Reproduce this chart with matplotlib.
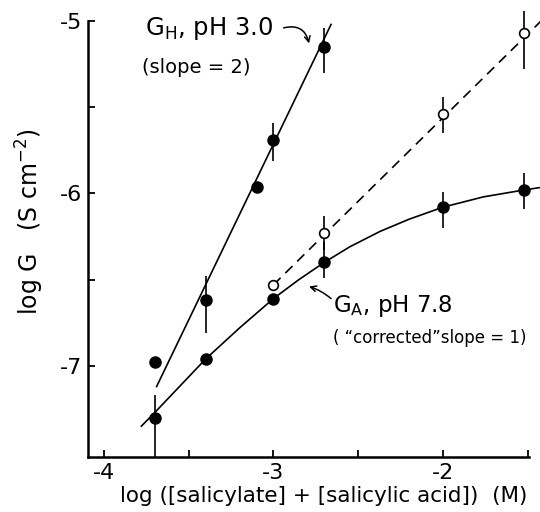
import numpy as np
import matplotlib
matplotlib.use("Agg")
import matplotlib.pyplot as plt

plt.rcParams['font.family'] = ['DejaVu Sans']
plt.rcParams['mathtext.fontset'] = 'dejavusans'

# G_H, pH 3.0 (filled, solid line slope 2)
gh_x = [-3.70, -3.40, -3.10, -3.00, -2.70]
gh_y = [-6.98, -6.62, -5.96, -5.69, -5.15]
gh_err_lo = [0.0, 0.19, 0.0, 0.12, 0.15]
gh_err_hi = [0.0, 0.14, 0.0, 0.10, 0.11]
gh_line_x = [-3.69, -2.66]
gh_line_y = [-7.12, -5.02]

# G_A, pH 7.8 (filled, solid curve)
ga_x = [-3.70, -3.40, -3.00, -2.70, -2.00, -1.52]
ga_y = [-7.30, -6.96, -6.61, -6.40, -6.08, -5.98]
ga_err_lo = [0.23, 0.0, 0.0, 0.09, 0.12, 0.11]
ga_err_hi = [0.13, 0.0, 0.0, 0.12, 0.09, 0.10]
ga_curve_x = [-3.78, -3.70, -3.40, -3.20, -3.00, -2.85, -2.70, -2.55,
              -2.37, -2.20, -2.00, -1.88, -1.76, -1.64, -1.52, -1.42]
ga_curve_y = [-7.35, -7.27, -6.96, -6.78, -6.61, -6.50, -6.40, -6.31,
              -6.22, -6.15, -6.08, -6.05, -6.02, -6.00, -5.98, -5.965]

# "corrected" G_A (open, dashed slope 1)
gc_x = [-3.00, -2.70, -2.00, -1.52]
gc_y = [-6.53, -6.23, -5.54, -5.07]
gc_err_lo = [0.0, 0.10, 0.11, 0.21]
gc_err_hi = [0.0, 0.10, 0.10, 0.13]
gc_line_x = [-3.00, -1.42]
gc_line_y = [-6.53, -5.00]

xticks = [-4, -3, -2]
xminor = [-3.5, -2.5, -1.5]
yticks = [-5, -6, -7]
yminor = [-5.5, -6.5]

fig = plt.figure(figsize=(5.4, 5.12), dpi=100)
ax = fig.add_axes([0.163, 0.107, 0.817, 0.852])

# fit lines
ax.plot(gh_line_x, gh_line_y, color='black', lw=1.2, clip_on=False)
ax.plot(ga_curve_x, ga_curve_y, color='black', lw=1.2, clip_on=False)
ax.plot(gc_line_x, gc_line_y, color='black', lw=1.2, ls=(0, (6, 4)), clip_on=False)

# data with error bars
ax.errorbar(gh_x, gh_y, yerr=[gh_err_lo, gh_err_hi], fmt='o', color='black',
            ms=8, elinewidth=1.2, capsize=0, clip_on=False, zorder=3)
ax.errorbar(ga_x, ga_y, yerr=[ga_err_lo, ga_err_hi], fmt='o', color='black',
            ms=8, elinewidth=1.2, capsize=0, clip_on=False, zorder=3)
ax.errorbar(gc_x, gc_y, yerr=[gc_err_lo, gc_err_hi], fmt='o', color='black',
            mfc='white', mec='black', mew=1.2, ms=7, elinewidth=1.2, capsize=0,
            clip_on=False, zorder=4)

ax.set_xlim(-4.095, -1.49)
ax.set_ylim(-7.53, -5.0)

for s in ['top', 'right']:
    ax.spines[s].set_visible(False)
for s in ['left', 'bottom']:
    ax.spines[s].set_linewidth(1.8)

ax.set_xticks(xticks)
ax.set_xticklabels([str(t) for t in xticks])
ax.set_xticks(xminor, minor=True)
ax.set_yticks(yticks)
ax.set_yticklabels([str(t) for t in yticks])
ax.set_yticks(yminor, minor=True)
ax.tick_params(which='both', direction='in', length=5, width=1.3, labelsize=16, pad=4)

ax.set_xlabel("log ([salicylate] + [salicylic acid])  (M)", fontsize=15.5)
ax.xaxis.set_label_coords(0.535, -0.066)
ax.set_ylabel("log G   (S cm$^{-2}$)", fontsize=17)
ax.yaxis.set_label_coords(-0.095, 0.54)

# annotations
ax.text(-3.76, -5.08, "G$_{\\mathrm{H}}$, pH 3.0", fontsize=17.5, va='baseline', ha='left')
ax.text(-3.775, -5.27, "(slope = 2)", fontsize=14, va='center', ha='left')
ax.annotate("", xy=(-2.79, -5.13), xytext=(-2.94, -5.04),
            arrowprops=dict(arrowstyle='->', lw=1.1, connectionstyle='arc3,rad=-0.5',
                            shrinkA=0, shrinkB=0))

ax.text(-2.65, -6.69, "G$_{\\mathrm{A}}$, pH 7.8", fontsize=16.5, va='baseline', ha='left')
ax.text(-2.65, -6.84, "( \u201ccorrected\u201dslope = 1)", fontsize=12, va='center', ha='left')
ax.annotate("", xy=(-2.79, -6.54), xytext=(-2.66, -6.61),
            arrowprops=dict(arrowstyle='->', lw=1.1, connectionstyle='arc3,rad=0.1',
                            shrinkA=0, shrinkB=0))

fig.savefig("out.png", dpi=100)
